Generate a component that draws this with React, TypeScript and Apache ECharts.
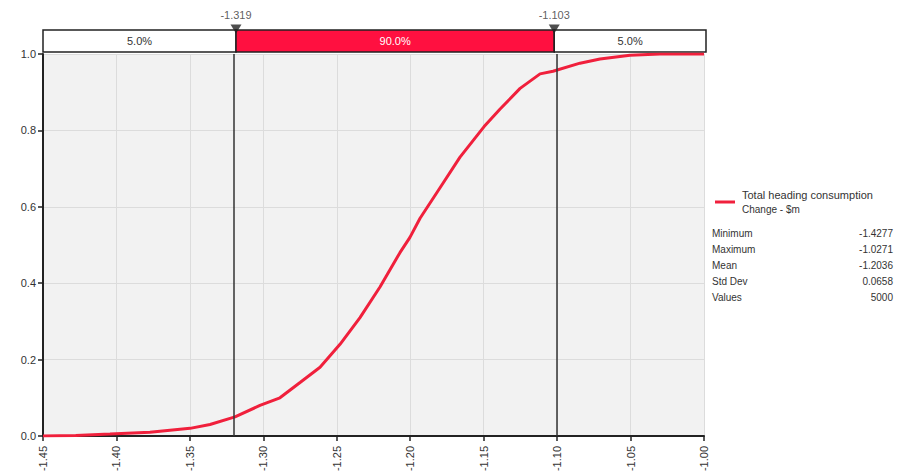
import React, { useEffect, useRef } from "react";
import * as echarts from "echarts";

// CDF points
const xValues = [
  -1.45, -1.4277, -1.4044, -1.3772, -1.3499, -1.3363, -1.3193, -1.3023, -1.2887, -1.275,
  -1.2614, -1.2478, -1.2342, -1.2206, -1.207, -1.2002, -1.1933, -1.1797, -1.1661, -1.1497,
  -1.1388, -1.1252, -1.1116, -1.1028, -1.0844, -1.0708, -1.0504, -1.03, -1.0,
];
const cdfValues = [
  0.0, 0.001, 0.005, 0.01, 0.02, 0.03, 0.05, 0.08, 0.1, 0.14,
  0.18, 0.24, 0.31, 0.39, 0.48, 0.52, 0.57, 0.65, 0.73, 0.81,
  0.856, 0.91, 0.948, 0.955, 0.976, 0.987, 0.997, 1.0, 1.0,
];

const markerValues = [-1.319, -1.103];
const bandLabels = ["5.0%", "90.0%", "5.0%"];
const xMin = -1.45;
const xMax = -1.0;
const xInterval = 0.05;

const legendTitle = "Total heading consumption";
const legendSubtitle = "Change - $m";
const statNames = ["Minimum", "Maximum", "Mean", "Std Dev", "Values"];
const statValues = ["-1.4277", "-1.0271", "-1.2036", "0.0658", "5000"];

const RED = "#ff1040";
const LINE = "#f0203c";
const FONT = "Liberation Sans";

export default function App() {
  const ref = useRef<HTMLDivElement>(null);
  useEffect(() => {
    if (!ref.current) return;
    const chart = echarts.init(ref.current, undefined, { renderer: "svg" });
    const data = xValues.map((x, i) => [x, cdfValues[i]]);
    const bounds = [xMin, markerValues[0], markerValues[1], xMax];

    const graphics: any[] = [
      {
        type: "line",
        shape: { x1: 715, y1: 202, x2: 735, y2: 202 },
        style: { stroke: LINE, lineWidth: 3 },
      },
      {
        type: "text",
        x: 742,
        y: 195,
        style: { text: legendTitle, font: `11px "${FONT}"`, fill: "#333", textVerticalAlign: "middle" },
      },
      {
        type: "text",
        x: 742,
        y: 209,
        style: { text: legendSubtitle, font: `10px "${FONT}"`, fill: "#333", textVerticalAlign: "middle" },
      },
    ];
    statNames.forEach((n, i) => {
      const y = 233 + i * 16;
      graphics.push({
        type: "text",
        x: 712,
        y,
        style: { text: n, font: `10px "${FONT}"`, fill: "#333", textVerticalAlign: "middle" },
      });
      graphics.push({
        type: "text",
        x: 893,
        y,
        style: {
          text: statValues[i],
          font: `10px "${FONT}"`,
          fill: "#333",
          textAlign: "right",
          textVerticalAlign: "middle",
        },
      });
    });

    chart.setOption({
      animation: false,
      textStyle: { fontFamily: FONT },
      grid: [
        {
          left: 43,
          right: 897 - 704,
          top: 54,
          bottom: 476 - 436,
          show: true,
          backgroundColor: "#f2f2f2",
          borderWidth: 0,
        },
        {
          left: 43,
          right: 897 - 706,
          top: 30,
          height: 22,
          show: false,
        },
      ],
      xAxis: [
        {
          type: "value",
          gridIndex: 0,
          min: xMin,
          max: xMax,
          interval: xInterval,
          axisLine: { show: true, onZero: false, lineStyle: { color: "#222", width: 2 } },
          axisTick: { show: true, length: 5, lineStyle: { color: "#222", width: 1.5 } },
          splitLine: { show: true, lineStyle: { color: "#dcdcdc", width: 1 } },
          axisLabel: {
            rotate: 90,
            margin: 10,
            fontSize: 11,
            color: "#333",
            formatter: (v: number) => v.toFixed(2),
          },
        },
        {
          type: "value",
          gridIndex: 1,
          min: xMin,
          max: xMax,
          show: false,
        },
      ],
      yAxis: [
        {
          type: "value",
          gridIndex: 0,
          min: 0,
          max: 1,
          interval: 0.2,
          axisLine: { show: true, lineStyle: { color: "#222", width: 2 } },
          axisTick: { show: true, length: 5, lineStyle: { color: "#222", width: 1.5 } },
          splitLine: { show: true, lineStyle: { color: "#dcdcdc", width: 1 } },
          axisLabel: {
            margin: 7,
            fontSize: 11,
            color: "#333",
            formatter: (v: number) => v.toFixed(1),
          },
        },
        {
          type: "value",
          gridIndex: 1,
          min: 0,
          max: 1,
          show: false,
        },
      ],
      series: [
        {
          type: "line",
          xAxisIndex: 0,
          yAxisIndex: 0,
          data,
          showSymbol: false,
          silent: true,
          lineStyle: { color: LINE, width: 3 },
          markLine: {
            silent: true,
            symbol: ["none", "none"],
            label: { show: false },
            lineStyle: { color: "#333", width: 1.5, type: "solid" },
            data: markerValues.map((v) => ({ xAxis: v })),
          },
        },
        {
          type: "scatter",
          xAxisIndex: 1,
          yAxisIndex: 1,
          silent: true,
          z: 5,
          data: markerValues.map((v) => [v, 1]),
          symbol: "triangle",
          symbolRotate: 180,
          symbolSize: [11, 9],
          symbolOffset: [0, -1],
          itemStyle: { color: "#222" },
          label: {
            show: true,
            position: "top",
            distance: 4,
            fontSize: 11,
            color: "#333",
            formatter: (p: any) => p.value[0].toFixed(3),
          },
          markArea: {
            silent: true,
            data: bandLabels.map((lab, i) => [
              {
                name: lab,
                xAxis: bounds[i],
                itemStyle: {
                  color: i === 1 ? RED : "#ffffff",
                  borderColor: "#222",
                  borderWidth: 1.5,
                },
                label: {
                  show: true,
                  position: "inside",
                  fontSize: 11,
                  color: i === 1 ? "#ffffff" : "#333",
                },
              },
              { xAxis: bounds[i + 1] },
            ]),
          },
        },
      ],
      graphic: graphics,
    });
    return () => chart.dispose();
  }, []);
  return (
    <div
      ref={ref}
      style={{ position: "absolute", left: 0, top: 0, width: 897, height: 476, background: "#fff" }}
    />
  );
}
